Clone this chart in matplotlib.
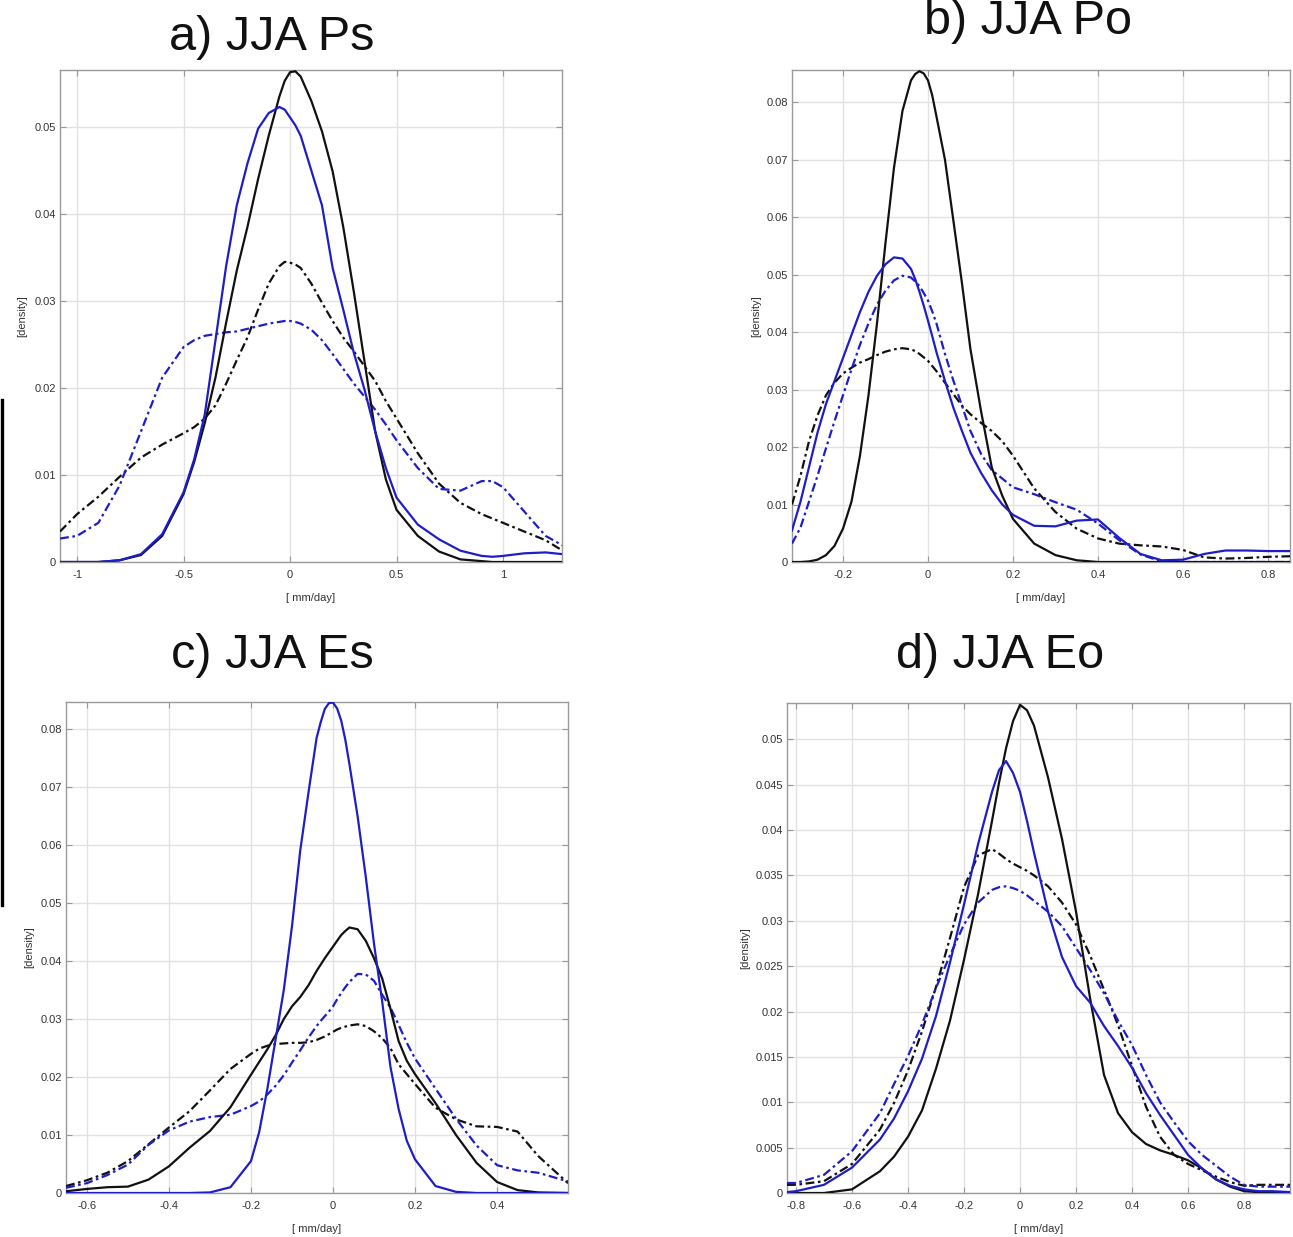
import matplotlib
matplotlib.use("Agg")
import matplotlib.pyplot as plt
from matplotlib.lines import Line2D

plt.rcParams["font.family"] = ["Liberation Sans", "DejaVu Sans"]

BLUE = "#1e1ec8"
BLACK = "#111111"

# ---------------- a) JJA Ps ----------------
a_x = [-1.08, -1.0, -0.9, -0.8, -0.7, -0.6, -0.5, -0.45, -0.4, -0.35, -0.3, -0.25,
       -0.2, -0.15, -0.1, -0.05, -0.025, 0.0, 0.025, 0.05, 0.1, 0.15, 0.2, 0.25,
       0.3, 0.35, 0.4, 0.45, 0.5, 0.6, 0.7, 0.8, 0.9, 0.95, 1.0, 1.1, 1.2, 1.28]
a_black = [0, 0, 0, 0.0002, 0.0008, 0.0030, 0.0078, 0.0115, 0.0160, 0.0212, 0.0275,
           0.0335, 0.0385, 0.0440, 0.0490, 0.0535, 0.0553, 0.0563, 0.0564, 0.0558,
           0.0530, 0.0495, 0.0449, 0.0385, 0.0310, 0.0230, 0.0150, 0.0095, 0.0060,
           0.0030, 0.0012, 0.0003, 0.0001, 0, 0, 0, 0, 0]
a_blue = [0, 0, 0, 0.0002, 0.0009, 0.0032, 0.0080, 0.0118, 0.0170, 0.0255, 0.0340,
          0.0410, 0.0458, 0.0498, 0.0516, 0.0523, 0.0520, 0.0511, 0.0502, 0.0490,
          0.0450, 0.0410, 0.0338, 0.0290, 0.0240, 0.0198, 0.0150, 0.0108, 0.0074,
          0.0043, 0.0026, 0.0013, 0.0007, 0.0006, 0.0007, 0.0010, 0.0011, 0.0009]
a_black_dash = [0.0035, 0.0055, 0.0075, 0.0098, 0.0120, 0.0135, 0.0148, 0.0155,
                0.0165, 0.0180, 0.0205, 0.0232, 0.0258, 0.0290, 0.0320, 0.0340,
                0.0345, 0.0344, 0.0342, 0.0338, 0.0320, 0.0298, 0.0277, 0.0258,
                0.0242, 0.0225, 0.0208, 0.0185, 0.0165, 0.0125, 0.0090, 0.0068,
                0.0055, 0.0050, 0.0045, 0.0035, 0.0025, 0.0013]
a_blue_dash = [0.0027, 0.0030, 0.0045, 0.0088, 0.0150, 0.0212, 0.0247, 0.0255,
               0.0260, 0.0262, 0.0264, 0.0265, 0.0268, 0.0271, 0.0274, 0.0276,
               0.0277, 0.0277, 0.0276, 0.0274, 0.0267, 0.0255, 0.0239, 0.0222,
               0.0205, 0.0190, 0.0175, 0.0158, 0.0140, 0.0108, 0.0084, 0.0082,
               0.0093, 0.0093, 0.0086, 0.0058, 0.0030, 0.0019]
a_xticks = [-1, -0.5, 0, 0.5, 1]
a_xticklabels = ["-1", "-0.5", "0", "0.5", "1"]
a_yticks = [0, 0.01, 0.02, 0.03, 0.04, 0.05]
a_yticklabels = ["0", "0.01", "0.02", "0.03", "0.04", "0.05"]

# ---------------- b) JJA Po ----------------
b_x = [-0.32, -0.3, -0.28, -0.26, -0.24, -0.22, -0.2, -0.18, -0.16, -0.14, -0.12,
       -0.1, -0.08, -0.06, -0.04, -0.03, -0.02, -0.01, 0.0, 0.01, 0.02, 0.04, 0.06,
       0.08, 0.1, 0.125, 0.15, 0.175, 0.2, 0.25, 0.3, 0.35, 0.4, 0.45, 0.5, 0.55,
       0.6, 0.65, 0.7, 0.75, 0.8, 0.852]
b_black = [0, 0, 0.0001, 0.0004, 0.0012, 0.0028, 0.0058, 0.0105, 0.0185, 0.0290,
           0.0415, 0.0555, 0.0686, 0.0785, 0.0838, 0.0849, 0.0854, 0.0850, 0.0838,
           0.0812, 0.0775, 0.0700, 0.0593, 0.0485, 0.0370, 0.0262, 0.0165, 0.0115,
           0.0075, 0.0032, 0.0012, 0.0003, 0, 0, 0, 0, 0, 0, 0, 0, 0, 0]
b_blue = [0.0055, 0.0105, 0.0165, 0.0225, 0.0275, 0.0315, 0.0355, 0.0395, 0.0435,
          0.0470, 0.0498, 0.0518, 0.0530, 0.0528, 0.0510, 0.0492, 0.0470, 0.0446,
          0.0420, 0.0393, 0.0365, 0.0315, 0.0268, 0.0228, 0.0190, 0.0155, 0.0125,
          0.0100, 0.0082, 0.0063, 0.0062, 0.0072, 0.0074, 0.0042, 0.0014, 0.0003,
          0.0004, 0.0014, 0.0020, 0.0020, 0.0019, 0.0019]
b_black_dash = [0.0100, 0.0150, 0.0210, 0.0255, 0.0290, 0.0312, 0.0328, 0.0338,
                0.0347, 0.0353, 0.0360, 0.0366, 0.0370, 0.0372, 0.0370, 0.0367,
                0.0362, 0.0356, 0.0350, 0.0341, 0.0332, 0.0312, 0.0292, 0.0272,
                0.0257, 0.0242, 0.0228, 0.0210, 0.0185, 0.0128, 0.0087, 0.0058,
                0.0041, 0.0032, 0.0029, 0.0027, 0.0021, 0.0008, 0.0006, 0.0007,
                0.0009, 0.0010]
b_blue_dash = [0.0032, 0.0060, 0.0105, 0.0150, 0.0198, 0.0245, 0.0290, 0.0335,
               0.0378, 0.0415, 0.0448, 0.0472, 0.0490, 0.0498, 0.0495, 0.0488,
               0.0480, 0.0468, 0.0455, 0.0436, 0.0415, 0.0362, 0.0315, 0.0272,
               0.0228, 0.0188, 0.0160, 0.0145, 0.0130, 0.0118, 0.0104, 0.0091,
               0.0067, 0.0038, 0.0013, 0.0001, 0, 0, 0, 0, 0, 0]
b_xticks = [-0.2, 0, 0.2, 0.4, 0.6, 0.8]
b_xticklabels = ["-0.2", "0", "0.2", "0.4", "0.6", "0.8"]
b_yticks = [0, 0.01, 0.02, 0.03, 0.04, 0.05, 0.06, 0.07, 0.08]
b_yticklabels = ["0", "0.01", "0.02", "0.03", "0.04", "0.05", "0.06", "0.07", "0.08"]

# ---------------- c) JJA Es ----------------
c_x = [-0.651, -0.6, -0.55, -0.5, -0.45, -0.4, -0.35, -0.3, -0.25, -0.2, -0.18,
       -0.16, -0.14, -0.12, -0.1, -0.08, -0.06, -0.04, -0.03, -0.02, -0.01, 0.0,
       0.01, 0.02, 0.03, 0.04, 0.06, 0.08, 0.1, 0.12, 0.14, 0.16, 0.18, 0.2, 0.25,
       0.3, 0.35, 0.4, 0.45, 0.5, 0.573]
c_black = [0.0003, 0.0007, 0.0010, 0.0011, 0.0023, 0.0046, 0.0078, 0.0107, 0.0148,
           0.0204, 0.0226, 0.0248, 0.0272, 0.0300, 0.0322, 0.0338, 0.0358, 0.0383,
           0.0394, 0.0405, 0.0415, 0.0425, 0.0435, 0.0445, 0.0452, 0.0458, 0.0455,
           0.0435, 0.0405, 0.0370, 0.0318, 0.0262, 0.0228, 0.0205, 0.0155, 0.0100,
           0.0052, 0.0019, 0.0005, 0.0001, 0]
c_blue = [0, 0, 0, 0, 0, 0, 0, 0.0001, 0.0010, 0.0055, 0.0105, 0.0180, 0.0265,
          0.0350, 0.0460, 0.0590, 0.0690, 0.0785, 0.0812, 0.0835, 0.0845, 0.0846,
          0.0836, 0.0815, 0.0782, 0.0740, 0.0650, 0.0545, 0.0430, 0.0330, 0.0218,
          0.0145, 0.0090, 0.0058, 0.0012, 0.0002, 0, 0, 0, 0, 0]
c_black_dash = [0.0012, 0.0022, 0.0035, 0.0055, 0.0084, 0.0113, 0.0141, 0.0177,
                0.0214, 0.0240, 0.0249, 0.0254, 0.0257, 0.0258, 0.0259, 0.0259,
                0.0260, 0.0264, 0.0267, 0.0270, 0.0274, 0.0278, 0.0282, 0.0285,
                0.0287, 0.0289, 0.0291, 0.0288, 0.0279, 0.0267, 0.0250, 0.0222,
                0.0205, 0.0188, 0.0147, 0.0127, 0.0115, 0.0114, 0.0106, 0.0064,
                0.0017]
c_blue_dash = [0.0009, 0.0017, 0.0031, 0.0049, 0.0083, 0.0108, 0.0123, 0.0131,
               0.0135, 0.0150, 0.0158, 0.0170, 0.0185, 0.0203, 0.0225, 0.0246,
               0.0268, 0.0288, 0.0297, 0.0305, 0.0313, 0.0322, 0.0334, 0.0345,
               0.0355, 0.0364, 0.0378, 0.0377, 0.0366, 0.0342, 0.0320, 0.0290,
               0.0259, 0.0232, 0.0180, 0.0128, 0.0082, 0.0048, 0.0039, 0.0035,
               0.0020]
c_xticks = [-0.6, -0.4, -0.2, 0, 0.2, 0.4]
c_xticklabels = ["-0.6", "-0.4", "-0.2", "0", "0.2", "0.4"]
c_yticks = [0, 0.01, 0.02, 0.03, 0.04, 0.05, 0.06, 0.07, 0.08]
c_yticklabels = ["0", "0.01", "0.02", "0.03", "0.04", "0.05", "0.06", "0.07", "0.08"]

# ---------------- d) JJA Eo ----------------
d_x = [-0.832, -0.8, -0.7, -0.6, -0.5, -0.45, -0.4, -0.35, -0.3, -0.25, -0.2,
       -0.15, -0.1, -0.075, -0.05, -0.025, 0.0, 0.025, 0.05, 0.1, 0.15, 0.2, 0.25,
       0.3, 0.35, 0.4, 0.45, 0.5, 0.55, 0.6, 0.65, 0.7, 0.75, 0.8, 0.85, 0.9,
       0.964]
d_black = [0, 0, 0, 0.0004, 0.0024, 0.0040, 0.0062, 0.0091, 0.0137, 0.0190, 0.0257,
           0.0329, 0.0410, 0.0452, 0.0490, 0.0520, 0.0538, 0.0532, 0.0515, 0.0458,
           0.0390, 0.0310, 0.0215, 0.0130, 0.0088, 0.0067, 0.0054, 0.0047, 0.0042,
           0.0036, 0.0027, 0.0015, 0.0007, 0.0002, 0.0001, 0, 0]
d_blue = [0.0001, 0.0002, 0.0009, 0.0028, 0.0059, 0.0082, 0.0112, 0.0148, 0.0195,
          0.0254, 0.0318, 0.0384, 0.0442, 0.0466, 0.0476, 0.0463, 0.0442, 0.0410,
          0.0375, 0.0310, 0.0260, 0.0228, 0.0210, 0.0184, 0.0162, 0.0138, 0.0110,
          0.0086, 0.0064, 0.0042, 0.0027, 0.0015, 0.0008, 0.0004, 0.0002, 0.0002,
          0.0001]
d_black_dash = [0.0009, 0.0009, 0.0013, 0.0032, 0.0070, 0.0099, 0.0135, 0.0178,
                0.0227, 0.0281, 0.0337, 0.0372, 0.0379, 0.0374, 0.0368, 0.0363,
                0.0359, 0.0355, 0.0350, 0.0338, 0.0320, 0.0296, 0.0262, 0.0224,
                0.0185, 0.0140, 0.0095, 0.0062, 0.0042, 0.0032, 0.0025, 0.0018,
                0.0012, 0.0008, 0.0009, 0.0009, 0.0009]
d_blue_dash = [0.0011, 0.0011, 0.0020, 0.0046, 0.0088, 0.0120, 0.0151, 0.0186,
               0.0226, 0.0262, 0.0296, 0.0320, 0.0334, 0.0337, 0.0338, 0.0336,
               0.0333, 0.0328, 0.0322, 0.0310, 0.0294, 0.0270, 0.0246, 0.0220,
               0.0190, 0.0163, 0.0130, 0.0100, 0.0078, 0.0057, 0.0042, 0.0030,
               0.0018, 0.0009, 0.0007, 0.0007, 0.0007]
d_xticks = [-0.8, -0.6, -0.4, -0.2, 0, 0.2, 0.4, 0.6, 0.8]
d_xticklabels = ["-0.8", "-0.6", "-0.4", "-0.2", "0", "0.2", "0.4", "0.6", "0.8"]
d_yticks = [0, 0.005, 0.01, 0.015, 0.02, 0.025, 0.03, 0.035, 0.04, 0.045, 0.05]
d_yticklabels = ["0", "0.005", "0.01", "0.015", "0.02", "0.025", "0.03", "0.035",
                 "0.04", "0.045", "0.05"]

panels = [
    dict(title="a) JJA Ps", x=a_x, k=a_black, b=a_blue, kd=a_black_dash, bd=a_blue_dash,
         xt=a_xticks, xtl=a_xticklabels, yt=a_yticks, ytl=a_yticklabels,
         xlim=(-1.08, 1.277), ylim=(0, 0.05655),
         rect=(60, 70, 562, 562), tpos=(272, 38), ylab_off=33),
    dict(title="b) JJA Po", x=b_x, k=b_black, b=b_blue, kd=b_black_dash, bd=b_blue_dash,
         xt=b_xticks, xtl=b_xticklabels, yt=b_yticks, ytl=b_yticklabels,
         xlim=(-0.32, 0.852), ylim=(0, 0.0856),
         rect=(792, 70, 1290, 562), tpos=(1028, 22), ylab_off=31),
    dict(title="c) JJA Es", x=c_x, k=c_black, b=c_blue, kd=c_black_dash, bd=c_blue_dash,
         xt=c_xticks, xtl=c_xticklabels, yt=c_yticks, ytl=c_yticklabels,
         xlim=(-0.651, 0.573), ylim=(0, 0.0847),
         rect=(66, 702, 568, 1193), tpos=(272, 655), ylab_off=32),
    dict(title="d) JJA Eo", x=d_x, k=d_black, b=d_blue, kd=d_black_dash, bd=d_blue_dash,
         xt=d_xticks, xtl=d_xticklabels, yt=d_yticks, ytl=d_yticklabels,
         xlim=(-0.832, 0.964), ylim=(0, 0.054),
         rect=(787, 703, 1290, 1193), tpos=(1000, 655), ylab_off=37),
]

W, H = 1293, 1237
fig = plt.figure(figsize=(W / 100, H / 100), dpi=100)
fig.patch.set_facecolor("white")

dashdot = (0, (4, 1.6, 1.2, 1.6))

for p in panels:
    l, t, r, b = p["rect"]
    ax = fig.add_axes([l / W, 1 - b / H, (r - l) / W, (b - t) / H])
    x = p["x"]
    ax.plot(x, p["kd"], color=BLACK, lw=1.6, linestyle=dashdot, zorder=3)
    ax.plot(x, p["bd"], color=BLUE, lw=1.6, linestyle=dashdot, zorder=3)
    ax.plot(x, p["k"], color=BLACK, lw=1.6, zorder=4, solid_joinstyle="round")
    ax.plot(x, p["b"], color=BLUE, lw=1.6, zorder=4, solid_joinstyle="round")

    ax.set_xlim(*p["xlim"])
    ax.set_ylim(*p["ylim"])
    ax.set_xticks(p["xt"])
    ax.set_xticklabels(p["xtl"])
    ax.set_yticks(p["yt"])
    ax.set_yticklabels(p["ytl"])
    ax.grid(True, color="#e2e2e2", lw=1.0, zorder=0)
    ax.set_axisbelow(True)
    ax.tick_params(direction="in", length=4, width=0.8, color="#999999",
                   labelsize=8, labelcolor="#333333", top=True, right=True)
    ax.tick_params(axis="x", pad=6)
    ax.tick_params(axis="y", pad=3)
    for s in ax.spines.values():
        s.set_color("#9a9a9a")
        s.set_linewidth(1.0)

    ax.set_xlabel("[ mm/day]", fontsize=8, color="#333333")
    ax.xaxis.set_label_coords(0.5, -31 / (b - t))
    ax.set_ylabel("[density]", fontsize=8, color="#333333")
    ax.yaxis.set_label_coords(-p["ylab_off"] / (r - l), 0.5)

    tx, ty = p["tpos"]
    fig.text(tx / W, 1 - ty / H, p["title"], fontsize=35, ha="center",
             va="center", color="#111111")

# thin dark bar along the left edge
fig.add_artist(Line2D([1.5 / W, 1.5 / W], [1 - 400 / H, 1 - 905 / H],
                      color="black", lw=2.4, transform=fig.transFigure))

fig.savefig("out.png", dpi=100, facecolor="white")
